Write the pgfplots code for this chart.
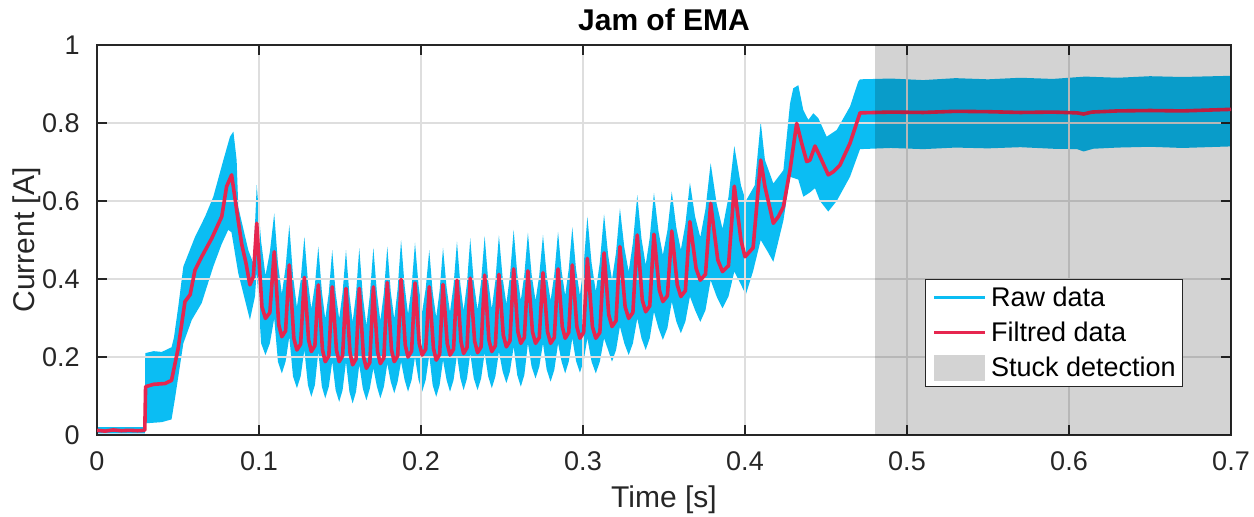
\documentclass[border=0pt]{standalone}
\usepackage{fontspec}
\setmainfont{Liberation Sans}
\usepackage{pgfplots}
\pgfplotsset{compat=1.18}
\usepgfplotslibrary{fillbetween}

\definecolor{rawc}{HTML}{0BBDF3}
\definecolor{filtc}{HTML}{E6264F}
\definecolor{stuckc}{HTML}{D3D3D3}
\definecolor{axc}{HTML}{262626}
\definecolor{gridc}{HTML}{DEDEDE}

% grid under the data, axis lines and ticks over it
\pgfplotsset{
  layers/gridbelow/.define layer set={axis background,axis grid,pre main,main,axis ticks,axis lines,axis tick labels,axis descriptions,axis foreground}{},
}

\begin{document}
\begin{tikzpicture}
\begin{axis}[
  set layers=gridbelow,
  at={(0pt,0pt)}, anchor=south west,
  scale only axis, width=567pt, height=195pt,
  xmin=0, xmax=0.7, ymin=0, ymax=1,
  xtick={0,0.1,0.2,0.3,0.4,0.5,0.6,0.7},
  ytick={0,0.2,0.4,0.6,0.8,1},
  tick align=inside, tick pos=both, major tick length=5pt,
  axis line style={draw=axc, line width=0.7pt},
  tick style={draw=axc, line width=0.7pt},
  grid=major, major grid style={draw=gridc, line width=0.6pt},
  /pgf/number format/assume math mode=true,
  ticklabel style={font=\fontsize{13.5}{16}\selectfont, text=axc},
  xticklabel style={anchor=center, inner sep=0pt, yshift=-13pt},
  yticklabel style={anchor=east, inner sep=0pt, xshift=-8.5pt},
  xlabel={Time [s]}, ylabel={Current [A]},
  label style={font=\fontsize{15}{18}\selectfont, text=axc},
  xlabel style={at={(axis description cs:0.5,-0.167)}, anchor=center},
  ylabel style={at={(axis description cs:-0.0617,0.5)}, anchor=center},
  title={Jam of EMA},
  every axis title/.style={at={(axis description cs:0.5,1.064)}, anchor=center,
    font=\bfseries\fontsize{15}{18}\selectfont, text=black},
  legend style={at={(axis description cs:0.958,0.40)}, anchor=north east, draw=axc, line width=0.6pt, fill=white,
    font=\fontsize{13.5}{16}\selectfont, inner xsep=3.5pt, inner ysep=2pt, row sep=3.2pt, column sep=2.3pt,
    nodes={inner xsep=0pt, inner ysep=1.5pt, text=black}},
  legend cell align=left,
]

% raw data, upper edge of the band
\addplot[name path=rawup, draw=none, forget plot] coordinates {
(0,0.020) (0.0295,0.020) (0.0298,0.210) (0.035,0.215) (0.040,0.213) (0.046,0.225) (0.0475,0.250) (0.0502,0.330)
(0.0533,0.432) (0.0605,0.508) (0.0667,0.560) (0.0718,0.611) (0.078,0.705) (0.0821,0.765) (0.0842,0.778)
(0.0862,0.705) (0.0872,0.585) (0.0893,0.547) (0.0934,0.474) (0.0965,0.440)
(0.0986,0.641)(0.1013,0.497)(0.1040,0.409)(0.1067,0.469)
(0.1094,0.568)(0.1117,0.440)(0.1141,0.362)(0.1164,0.429)
(0.1187,0.538)(0.1210,0.408)(0.1234,0.328)(0.1257,0.396)
(0.1280,0.508)(0.1302,0.394)(0.1323,0.324)(0.1345,0.384)
(0.1366,0.483)(0.1388,0.368)(0.1409,0.298)(0.1431,0.365)
(0.1452,0.474)(0.1473,0.365)(0.1495,0.298)(0.1516,0.365)
(0.1537,0.474)(0.1558,0.360)(0.1578,0.290)(0.1599,0.362)
(0.1619,0.479)(0.1641,0.356)(0.1663,0.281)(0.1684,0.357)
(0.1706,0.480)(0.1728,0.364)(0.1749,0.293)(0.1771,0.365)
(0.1792,0.483)(0.1813,0.368)(0.1835,0.298)(0.1856,0.375)
(0.1877,0.500)(0.1899,0.382)(0.1920,0.310)(0.1942,0.380)
(0.1963,0.493)(0.1985,0.383)(0.2007,0.315)(0.2029,0.375)
(0.2051,0.474)(0.2072,0.367)(0.2094,0.302)(0.2115,0.370)
(0.2136,0.480)(0.2158,0.378)(0.2179,0.315)(0.2201,0.384)
(0.2222,0.496)(0.2243,0.386)(0.2263,0.319)(0.2284,0.389)
(0.2304,0.504)(0.2326,0.391)(0.2349,0.321)(0.2371,0.393)
(0.2393,0.510)(0.2415,0.395)(0.2437,0.324)(0.2459,0.395)
(0.2481,0.512)(0.2504,0.403)(0.2527,0.336)(0.2549,0.408)
(0.2572,0.526)(0.2594,0.414)(0.2616,0.345)(0.2638,0.411)
(0.2660,0.519)(0.2683,0.411)(0.2707,0.345)(0.2730,0.409)
(0.2753,0.513)(0.2776,0.409)(0.2800,0.345)(0.2823,0.412)
(0.2846,0.521)(0.2868,0.420)(0.2890,0.358)(0.2912,0.425)
(0.2934,0.533)(0.2957,0.425)(0.2981,0.358)(0.3004,0.435)
(0.3027,0.560)(0.3053,0.441)(0.3079,0.368)(0.3104,0.443)
(0.3130,0.566)(0.3155,0.462)(0.3179,0.398)(0.3204,0.468)
(0.3228,0.581)(0.3255,0.481)(0.3282,0.419)(0.3308,0.493)
(0.3335,0.615)(0.3361,0.504)(0.3387,0.436)(0.3412,0.506)
(0.3438,0.621)(0.3466,0.522)(0.3493,0.462)(0.3521,0.524)
(0.3548,0.624)(0.3576,0.532)(0.3604,0.475)(0.3632,0.540)
(0.3660,0.647)(0.3692,0.560)(0.3724,0.507)(0.3756,0.579)
(0.3788,0.697)(0.3825,0.593)(0.3861,0.529)(0.3898,0.610)
(0.3934,0.741)(0.3975,0.640)(0.4005,0.600)(0.4060,0.640)
(0.4097,0.803) (0.4123,0.705) (0.4175,0.645) (0.4237,0.679) (0.4278,0.850) (0.4298,0.889) (0.4329,0.897)
(0.4360,0.833) (0.4391,0.808) (0.4422,0.825) (0.4453,0.812) (0.4504,0.765) (0.4566,0.782) (0.4648,0.842)
(0.4699,0.906) (0.4710,0.912)
(0.49,0.914) (0.51,0.910) (0.53,0.915) (0.55,0.912) (0.57,0.916) (0.59,0.913) (0.61,0.919) (0.63,0.916)
(0.65,0.920) (0.67,0.918) (0.70,0.921)
};

% raw data, lower edge of the band
\addplot[name path=rawlo, draw=none, forget plot] coordinates {
(0,0.004) (0.0295,0.004) (0.0300,0.030) (0.040,0.033) (0.046,0.040) (0.048,0.090) (0.0533,0.235) (0.0585,0.295)
(0.0646,0.338) (0.0718,0.432) (0.077,0.490) (0.081,0.526) (0.083,0.520) (0.0872,0.415) (0.0944,0.295) (0.0975,0.355)
(0.0986,0.420)(0.1013,0.235)(0.1040,0.205)(0.1067,0.235)
(0.1094,0.299)(0.1117,0.188)(0.1141,0.158)(0.1164,0.188)
(0.1187,0.252)(0.1210,0.150)(0.1234,0.120)(0.1257,0.150)
(0.1280,0.218)(0.1302,0.128)(0.1323,0.098)(0.1345,0.128)
(0.1366,0.214)(0.1388,0.124)(0.1409,0.094)(0.1431,0.124)
(0.1452,0.188)(0.1473,0.115)(0.1495,0.085)(0.1516,0.115)
(0.1537,0.188)(0.1558,0.111)(0.1578,0.081)(0.1599,0.111)
(0.1619,0.180)(0.1641,0.119)(0.1663,0.089)(0.1684,0.119)
(0.1706,0.171)(0.1728,0.124)(0.1749,0.094)(0.1771,0.124)
(0.1792,0.183)(0.1813,0.137)(0.1835,0.107)(0.1856,0.137)
(0.1877,0.188)(0.1899,0.141)(0.1920,0.111)(0.1942,0.141)
(0.1963,0.200)(0.1985,0.141)(0.2007,0.111)(0.2029,0.141)
(0.2051,0.205)(0.2072,0.128)(0.2094,0.098)(0.2115,0.128)
(0.2136,0.192)(0.2158,0.141)(0.2179,0.111)(0.2201,0.141)
(0.2222,0.205)(0.2243,0.145)(0.2263,0.115)(0.2284,0.145)
(0.2304,0.209)(0.2326,0.145)(0.2349,0.115)(0.2371,0.145)
(0.2393,0.211)(0.2415,0.150)(0.2437,0.120)(0.2459,0.150)
(0.2481,0.214)(0.2504,0.163)(0.2527,0.133)(0.2549,0.163)
(0.2572,0.226)(0.2594,0.154)(0.2616,0.124)(0.2638,0.154)
(0.2660,0.235)(0.2683,0.175)(0.2707,0.145)(0.2730,0.175)
(0.2753,0.235)(0.2776,0.167)(0.2800,0.137)(0.2823,0.167)
(0.2846,0.235)(0.2868,0.188)(0.2890,0.158)(0.2912,0.188)
(0.2934,0.248)(0.2957,0.190)(0.2981,0.160)(0.3004,0.190)
(0.3027,0.248)(0.3053,0.188)(0.3079,0.158)(0.3104,0.188)
(0.3130,0.248)(0.3155,0.218)(0.3179,0.188)(0.3204,0.218)
(0.3228,0.278)(0.3255,0.235)(0.3282,0.205)(0.3308,0.235)
(0.3335,0.299)(0.3361,0.248)(0.3387,0.218)(0.3412,0.248)
(0.3438,0.316)(0.3466,0.274)(0.3493,0.244)(0.3521,0.274)
(0.3548,0.342)(0.3576,0.291)(0.3604,0.261)(0.3632,0.291)
(0.3660,0.355)(0.3692,0.320)(0.3724,0.290)(0.3756,0.320)
(0.3788,0.397)(0.3825,0.355)(0.3861,0.325)(0.3898,0.355)
(0.3934,0.419)(0.3970,0.390)(0.4005,0.360)(0.4050,0.420)
(0.4097,0.500) (0.4140,0.470) (0.4175,0.444) (0.4237,0.550) (0.4278,0.662) (0.4329,0.655) (0.4360,0.611)
(0.4401,0.622) (0.4432,0.633) (0.4463,0.600) (0.4514,0.573) (0.4566,0.600) (0.4648,0.662) (0.4710,0.733)
(0.49,0.736) (0.51,0.733) (0.53,0.737) (0.55,0.735) (0.57,0.738) (0.59,0.734) (0.605,0.733) (0.609,0.727)
(0.615,0.734) (0.63,0.737) (0.65,0.739) (0.67,0.736) (0.70,0.740)
};

\addplot[fill=rawc, draw=none,
  legend image code/.code={\draw[rawc, line width=1.5pt] (0pt,0pt) -- (25.5pt,0pt);}]
  fill between[of=rawup and rawlo];
\addlegendentry{Raw data}

\addplot[filtc, line width=1.8pt, line join=round,
  legend image code/.code={\draw[filtc, line width=1.5pt] (0pt,0pt) -- (25.5pt,0pt);}] coordinates {
(0,0.012) (0.005,0.010) (0.010,0.013) (0.015,0.011) (0.020,0.012) (0.025,0.011) (0.0295,0.012) (0.0300,0.124)
(0.035,0.130) (0.042,0.132) (0.046,0.140) (0.050,0.220) (0.0543,0.342) (0.0575,0.360) (0.0605,0.423) (0.065,0.460)
(0.0708,0.504) (0.077,0.560) (0.080,0.637) (0.0831,0.667) (0.0862,0.577) (0.0893,0.490) (0.092,0.440) (0.0944,0.385)
(0.0965,0.406)
(0.0986,0.543)(0.1018,0.329)(0.1040,0.299)(0.1067,0.314)
(0.1094,0.470)(0.1122,0.282)(0.1141,0.252)(0.1164,0.267)
(0.1187,0.436)(0.1215,0.248)(0.1234,0.218)(0.1257,0.233)
(0.1280,0.404)(0.1306,0.244)(0.1323,0.214)(0.1345,0.229)
(0.1366,0.385)(0.1392,0.218)(0.1409,0.188)(0.1431,0.203)
(0.1452,0.380)(0.1478,0.218)(0.1495,0.188)(0.1516,0.203)
(0.1537,0.376)(0.1562,0.210)(0.1578,0.180)(0.1599,0.195)
(0.1619,0.376)(0.1645,0.201)(0.1663,0.171)(0.1684,0.186)
(0.1706,0.380)(0.1732,0.213)(0.1749,0.183)(0.1771,0.198)
(0.1792,0.391)(0.1818,0.218)(0.1835,0.188)(0.1856,0.203)
(0.1877,0.399)(0.1903,0.230)(0.1920,0.200)(0.1942,0.215)
(0.1963,0.390)(0.1989,0.235)(0.2007,0.205)(0.2029,0.220)
(0.2051,0.380)(0.2077,0.222)(0.2094,0.192)(0.2115,0.207)
(0.2136,0.386)(0.2162,0.235)(0.2179,0.205)(0.2201,0.220)
(0.2222,0.397)(0.2247,0.239)(0.2263,0.209)(0.2284,0.224)
(0.2304,0.402)(0.2331,0.241)(0.2349,0.211)(0.2371,0.226)
(0.2393,0.410)(0.2419,0.244)(0.2437,0.214)(0.2459,0.229)
(0.2481,0.412)(0.2508,0.256)(0.2527,0.226)(0.2549,0.241)
(0.2572,0.426)(0.2598,0.265)(0.2616,0.235)(0.2638,0.250)
(0.2660,0.421)(0.2688,0.265)(0.2707,0.235)(0.2730,0.250)
(0.2753,0.416)(0.2781,0.265)(0.2800,0.235)(0.2823,0.250)
(0.2846,0.426)(0.2872,0.278)(0.2890,0.248)(0.2912,0.263)
(0.2934,0.436)(0.2962,0.278)(0.2981,0.248)(0.3004,0.263)
(0.3027,0.453)(0.3058,0.278)(0.3079,0.248)(0.3104,0.263)
(0.3130,0.467)(0.3159,0.308)(0.3179,0.278)(0.3204,0.293)
(0.3228,0.483)(0.3260,0.329)(0.3282,0.299)(0.3308,0.314)
(0.3335,0.513)(0.3366,0.346)(0.3387,0.316)(0.3412,0.331)
(0.3438,0.515)(0.3471,0.372)(0.3493,0.342)(0.3521,0.357)
(0.3548,0.523)(0.3582,0.385)(0.3604,0.355)(0.3632,0.370)
(0.3660,0.547)(0.3698,0.427)(0.3724,0.397)(0.3756,0.412)
(0.3788,0.594)(0.3832,0.449)(0.3861,0.419)(0.3898,0.434)
(0.3934,0.638)(0.3975,0.500)(0.4000,0.457)(0.4050,0.480)
(0.4097,0.705) (0.4123,0.637) (0.4175,0.543) (0.4206,0.560) (0.4237,0.585) (0.4278,0.680) (0.4319,0.799)
(0.4350,0.748) (0.4381,0.701) (0.4401,0.705) (0.4432,0.741) (0.4463,0.714) (0.4514,0.667) (0.4545,0.675)
(0.4586,0.692) (0.4648,0.748) (0.4710,0.826)
(0.49,0.828) (0.51,0.827) (0.53,0.830) (0.55,0.829) (0.57,0.827) (0.59,0.828) (0.605,0.826) (0.609,0.823)
(0.614,0.828) (0.63,0.831) (0.65,0.832) (0.67,0.831) (0.70,0.835)
};
\addlegendentry{Filtred data}

\addplot[fill=stuckc, draw=none, blend mode=multiply,
  legend image code/.code={\fill[stuckc] (0pt,-6.4pt) rectangle (25.5pt,6.4pt);}]
  coordinates {(0.48,0) (0.48,1) (0.7,1) (0.7,0)};
\addlegendentry{Stuck detection}

\end{axis}
\pgfresetboundingbox
\path[use as bounding box] (-48.5pt,-40.5pt) rectangle (578.5pt,217.5pt);
\end{tikzpicture}
\end{document}
